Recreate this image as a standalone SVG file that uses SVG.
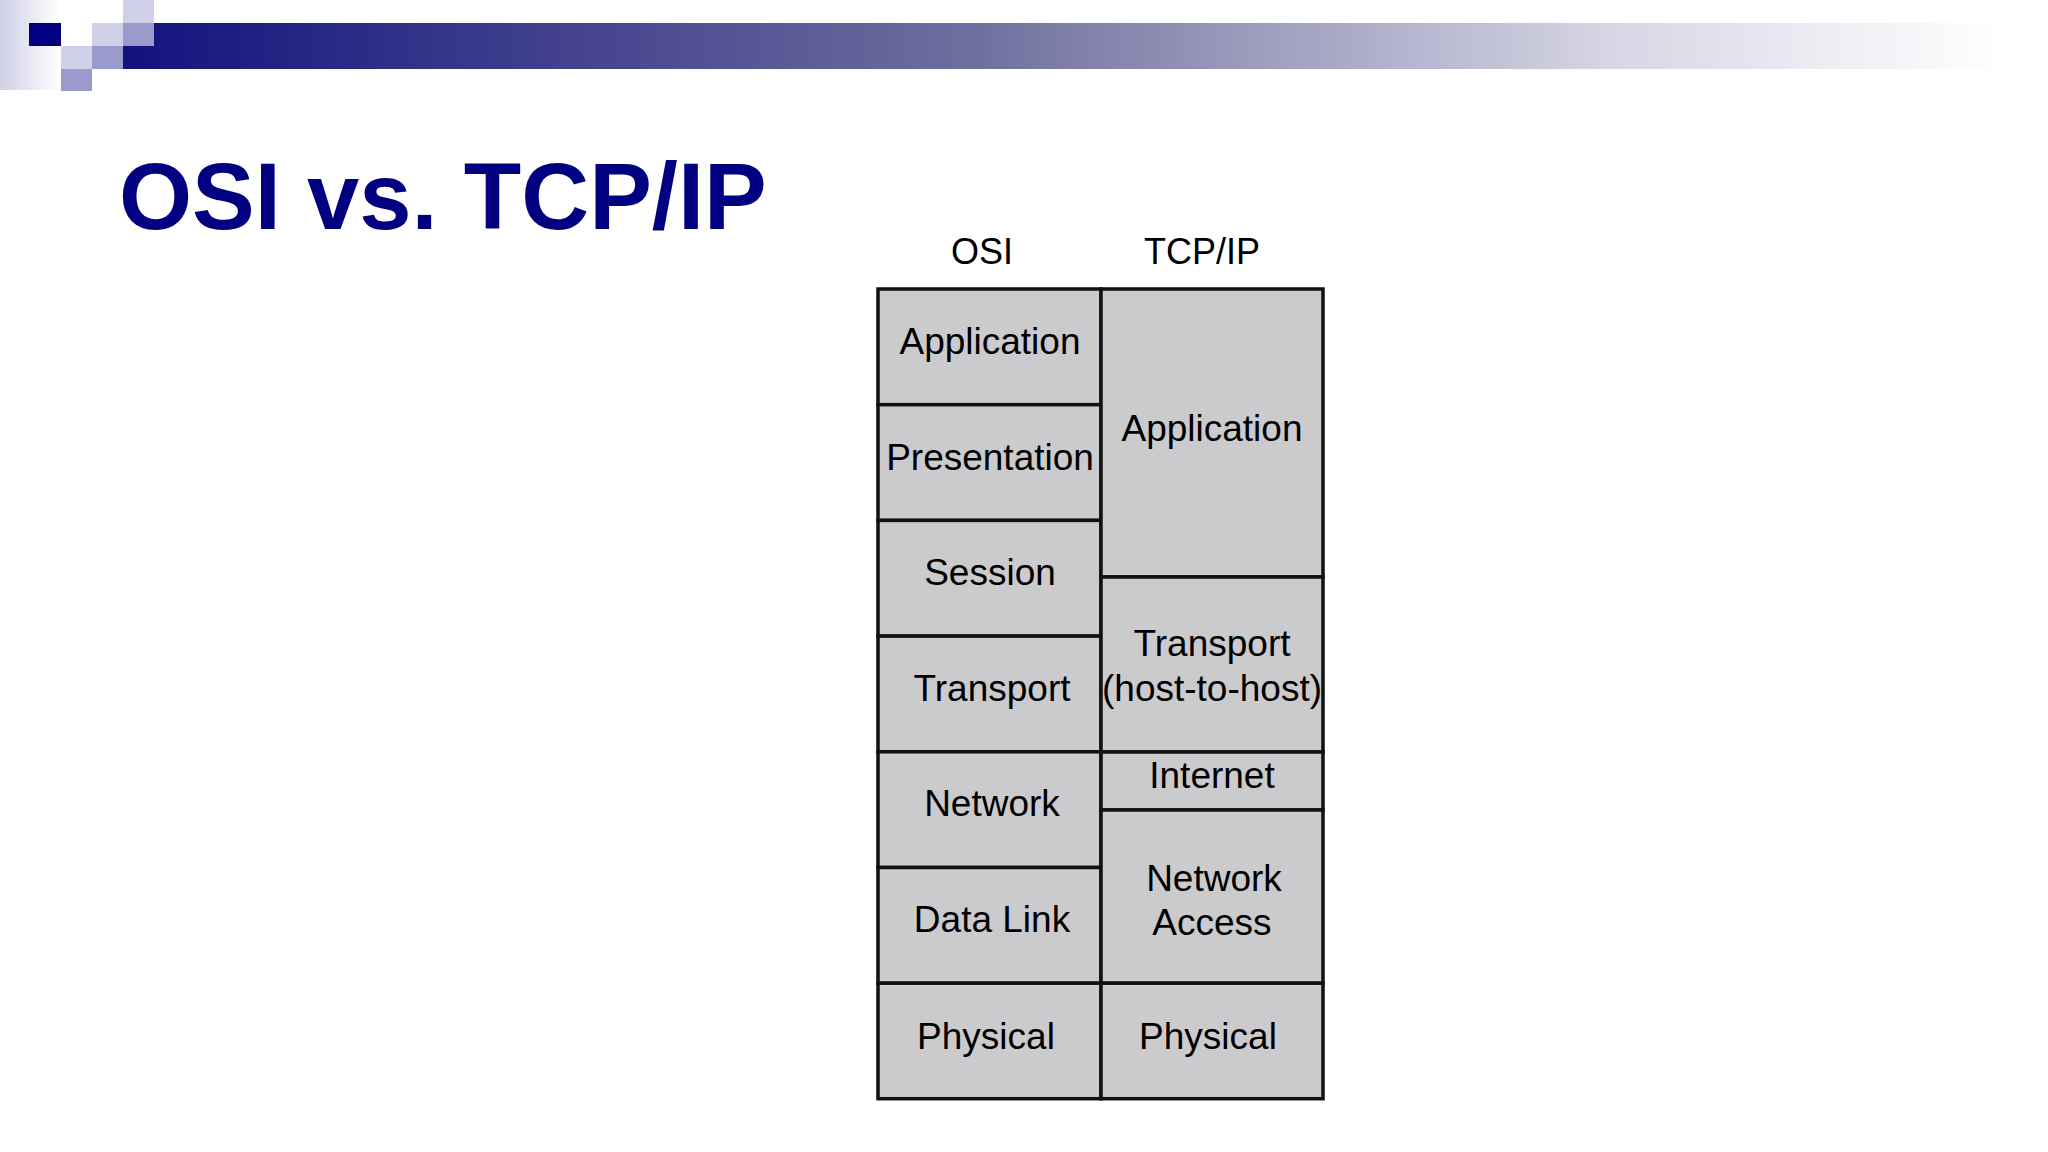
<svg xmlns="http://www.w3.org/2000/svg" width="2048" height="1152" viewBox="0 0 2048 1152">
<defs>
<linearGradient id="bar" x1="0" x2="1" y1="0" y2="0">
<stop offset="0" stop-color="#12127e"/><stop offset="0.45" stop-color="#6e6e9e"/><stop offset="0.8" stop-color="#d8d8e6"/><stop offset="1" stop-color="#ffffff"/>
</linearGradient>
<linearGradient id="fade" x1="0" x2="1" y1="0" y2="0">
<stop offset="0" stop-color="#cfcfe6"/><stop offset="1" stop-color="#ffffff"/>
</linearGradient>
<style>
.c{fill:#cbcbcd;stroke:#111;stroke-width:3.5}
.t{font-family:"Liberation Sans",Arial,sans-serif;font-size:37px;fill:#000;text-anchor:middle}
.h{font-family:"Liberation Sans",Arial,sans-serif;font-size:36px;fill:#000;text-anchor:middle}
</style>
</defs>
<rect width="2048" height="1152" fill="#fff"/>
<g id="header">
<rect x="0" y="0" width="60" height="90" fill="url(#fade)"/>
<rect x="123" y="23" width="1880" height="46" fill="url(#bar)"/>
<rect x="29" y="23" width="32" height="23" fill="#000080"/>
<rect x="61" y="46" width="31" height="23" fill="#d0d0e8"/>
<rect x="61" y="69" width="31" height="22" fill="#9a9acc"/>
<rect x="92" y="23" width="31" height="23" fill="#d0d0e8"/>
<rect x="92" y="46" width="31" height="23" fill="#9a9acc"/>
<rect x="123" y="0" width="31" height="23" fill="#d0d0e8"/>
<rect x="123" y="23" width="31" height="23" fill="#9a9acc"/>
</g>
<text x="119" y="229" font-family="Liberation Sans,Arial,sans-serif" font-weight="bold" font-size="94" fill="#000080">OSI vs. TCP/IP</text>
<text class="h" x="982" y="264">OSI</text>
<text class="h" x="1202" y="264">TCP/IP</text>
<g id="osi-application"><rect class="c" x="878" y="289" width="223" height="115.7"/><text class="t" x="990" y="354">Application</text></g>
<g id="osi-presentation"><rect class="c" x="878" y="404.7" width="223" height="115.7"/><text class="t" x="990" y="470">Presentation</text></g>
<g id="osi-session"><rect class="c" x="878" y="520.4" width="223" height="115.7"/><text class="t" x="990" y="585">Session</text></g>
<g id="osi-transport"><rect class="c" x="878" y="636.1" width="223" height="115.7"/><text class="t" x="992" y="701">Transport</text></g>
<g id="osi-network"><rect class="c" x="878" y="751.8" width="223" height="115.7"/><text class="t" x="992" y="816">Network</text></g>
<g id="osi-datalink"><rect class="c" x="878" y="867.5" width="223" height="115.7"/><text class="t" x="992" y="932">Data Link</text></g>
<g id="osi-physical"><rect class="c" x="878" y="983.2" width="223" height="115.5"/><text class="t" x="986" y="1049">Physical</text></g>
<g id="tcp-application"><rect class="c" x="1101" y="289" width="222" height="288"/><text class="t" x="1212" y="441">Application</text></g>
<g id="tcp-transport"><rect class="c" x="1101" y="577" width="222" height="175"/><text class="t" x="1212" y="656">Transport</text><text class="t" x="1212" y="701">(host-to-host)</text></g>
<g id="tcp-internet"><rect class="c" x="1101" y="752" width="222" height="58"/><text class="t" x="1212" y="788">Internet</text></g>
<g id="tcp-netaccess"><rect class="c" x="1101" y="810" width="222" height="173.2"/><text class="t" x="1214" y="891">Network</text><text class="t" x="1212" y="935">Access</text></g>
<g id="tcp-physical"><rect class="c" x="1101" y="983.2" width="222" height="115.5"/><text class="t" x="1208" y="1049">Physical</text></g>
<g id="connectors"/>
</svg>
